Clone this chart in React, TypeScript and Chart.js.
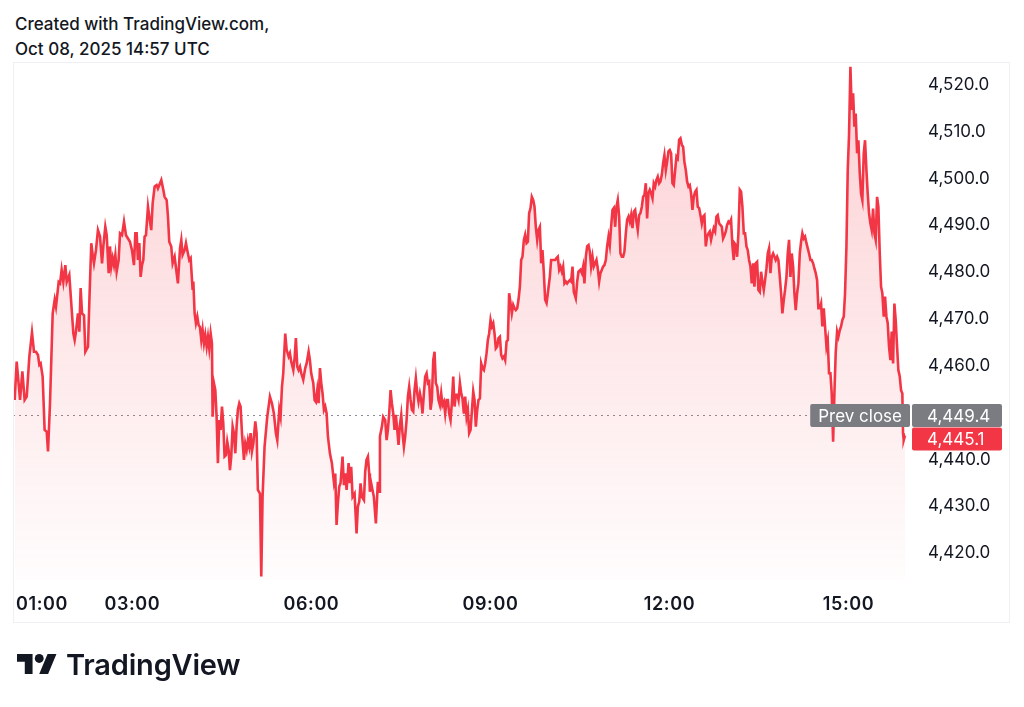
import React, { useEffect, useRef } from "react";
import { Chart, registerables } from "chart.js";

Chart.register(...registerables);

// time in minutes since 00:00 (axis time zone), price values
const minutes: number[] = [
  61.7, 63.7, 67.1, 69.4, 71.7, 73.8, 76.4, 79.1, 81.1, 83.1, 85.1, 86.5, 87.8, 89.8, 91.8, 93.9, 95.2, 97.2, 99.9,
  101.9, 103.2, 105.9, 107.3, 108.9, 110.6, 112.6, 114.0, 116.6, 118.6, 120.7, 122.0, 123.3, 125.3, 126.7, 128.0,
  129.4, 131.4, 132.7, 135.4, 136.7, 138.7, 140.1, 141.4, 143.4, 145.4, 147.5, 149.5, 150.8, 152.8, 154.2, 156.2,
  157.5, 158.8, 160.2, 161.5, 162.9, 164.2, 166.2, 167.6, 169.6, 171.6, 173.6, 175.6, 177.6, 179.6, 181.6, 183.0,
  184.3, 185.6, 187.0, 188.3, 189.7, 191.0, 192.3, 193.7, 195.7, 197.0, 199.0, 200.4, 202.4, 204.4, 205.7, 207.8,
  209.1, 211.1, 212.4, 214.5, 215.8, 217.1, 219.1, 220.5, 222.5, 224.5, 225.8, 227.9, 229.2, 230.5, 232.5, 233.9,
  235.2, 237.2,
  238.6, 240.6, 241.3, 242.6, 243.9, 245.3, 246.6, 247.9, 249.3, 250.6, 252.0, 253.3, 254.7, 256.0, 257.3, 258.7,
  260.0, 260.7, 262.0, 263.4, 264.7, 266.0, 267.4, 268.7, 270.1, 271.4, 272.7, 274.1, 275.4, 276.8, 278.1, 279.4,
  280.8, 282.1, 283.5, 284.8, 286.1, 287.5, 288.8, 290.2, 292.2, 293.5, 294.9, 296.2, 297.5, 298.9, 300.2, 301.6,
  303.6, 304.9, 306.2, 308.3, 309.6, 310.9, 312.9, 315.6, 318.3, 320.3, 322.3, 324.3, 325.7, 327.7, 329.0, 330.4,
  331.7, 333.7, 335.1, 337.1, 338.4, 339.7, 341.8, 343.1, 344.4, 345.8, 347.1, 348.5, 349.8, 351.8, 353.8, 355.2,
  357.2, 358.5, 359.8, 361.9, 363.2, 364.5, 365.9, 367.2, 368.6, 369.9, 371.2, 372.6, 373.9, 375.3, 376.6, 378.6,
  380.6, 382.6, 384.0, 385.3, 386.6, 388.0, 389.3, 391.3, 392.7, 394.0, 395.4, 397.4, 398.7, 400.0, 401.4, 403.4,
  405.4, 406.7, 408.1, 409.4, 410.8, 412.8, 414.1, 415.4, 416.8, 418.1,
  418.8, 420.1, 422.8, 424.8, 426.8, 428.1,
  428.9, 430.9, 432.2, 434.2, 435.6, 436.9, 438.2, 439.6, 440.9, 442.3, 443.6, 444.9, 446.3, 447.6, 449.0, 450.3,
  451.6, 453.0, 454.3, 455.7, 457.0, 458.3, 459.7, 461.0, 462.4, 463.7, 465.0, 466.4, 467.7, 469.1, 470.4, 471.7,
  473.1, 474.4, 475.8, 477.1, 478.4, 479.8, 481.1, 482.5, 483.8, 485.1, 486.5, 487.8, 489.2, 490.5, 491.8, 493.2,
  494.5, 495.9, 497.2, 498.5, 499.9, 501.2, 502.6, 503.9, 505.2, 506.6, 507.9, 509.3, 510.6, 511.9, 513.3, 514.6,
  516.0, 517.3, 518.6, 520.0, 521.3, 522.7, 524.0, 525.3, 526.7, 528.0, 529.4, 530.7, 532.0, 533.4, 534.7, 536.1,
  537.4, 538.7, 540.1, 541.4, 542.8, 544.1, 545.4, 546.8, 548.1, 549.5, 550.8, 552.1, 553.5, 554.8, 556.2, 557.5,
  558.8, 560.2, 561.5, 562.9, 564.2, 565.5, 566.9, 568.2, 569.6, 570.9, 572.2, 573.6, 574.9, 576.3, 577.6, 578.9,
  580.3, 581.6, 583.0, 584.3, 585.6, 587.0, 588.3, 589.7, 591.0, 592.3, 593.7, 595.0, 596.4, 597.7, 599.7,
  601.0, 603.1, 605.1, 606.4, 607.7, 609.1, 610.4, 611.8, 613.1, 614.4, 615.8, 617.1, 618.5, 619.8, 621.1, 622.5,
  623.8, 625.8, 627.2, 628.5, 630.5, 631.9, 633.2, 634.5, 635.9, 637.2, 638.6, 639.9, 641.2, 642.6, 643.9, 645.3,
  646.6, 647.9, 649.3, 650.6, 652.0, 653.3, 654.6, 656.0, 657.3, 658.7, 660.0, 661.3, 662.7, 664.0, 665.4, 666.7,
  668.0, 669.4, 670.7, 672.1, 673.4, 674.7, 676.1, 677.4, 678.8, 680.1, 681.4, 682.8, 684.1, 685.5, 686.8, 688.1,
  689.5, 690.8, 692.2, 693.5, 694.8, 696.2, 697.5, 698.9, 700.2, 701.5, 702.9, 704.2, 705.6, 706.9, 708.2, 709.6,
  710.9, 712.3, 713.6, 714.9, 716.3, 717.6, 719.0, 720.3, 721.6, 723.0, 724.3, 725.7, 727.0, 728.3, 729.7, 731.0,
  732.4, 733.7, 735.0, 736.4, 737.7, 739.1, 740.4, 741.7, 743.1, 744.4, 745.8, 747.1, 748.4, 749.8, 751.1, 752.5,
  753.8, 755.1, 756.5, 757.8, 759.2, 760.5, 761.8, 763.2, 764.5, 765.9, 767.2, 768.5, 769.9, 771.2, 772.6, 773.9,
  775.3, 776.6, 777.9, 779.3, 780.6,
  781.9, 783.3, 784.6, 785.3, 786.6, 788.0, 789.3, 790.7, 792.0, 793.3, 794.7, 796.0, 797.4, 798.7, 800.0, 801.4,
  802.7, 804.1, 805.4, 806.7, 808.1, 809.4, 810.8, 812.1, 813.4, 814.8, 816.1, 817.5, 818.8, 820.1, 821.5, 822.8,
  824.2, 825.5, 826.8, 828.2, 829.5, 830.9, 832.2, 833.5, 834.9, 836.2, 837.6, 838.9, 840.2, 841.6, 842.9, 844.3,
  845.6, 846.9, 848.3, 849.6, 851.0, 852.3, 853.6, 855.0, 856.3, 857.7, 859.0, 860.3, 861.7, 863.0, 864.4, 865.7,
  867.0, 868.4, 869.7, 871.1, 872.4, 873.7, 875.1, 876.4, 877.8, 879.1, 880.4, 881.8, 883.1, 884.5, 885.8, 887.1,
  888.5, 889.8, 891.2, 892.5, 893.8, 895.2, 896.5, 897.9, 899.2, 900.5, 901.9, 903.2, 904.6, 905.9, 907.2, 908.6,
  909.9, 911.3, 912.6, 913.9, 915.3, 916.6, 918.0, 919.3, 920.6, 922.0, 923.3, 924.7, 926.0, 927.3, 928.7, 930.0,
  931.4, 932.7, 934.0, 935.4, 936.7, 938.1, 939.4, 940.7, 942.1, 943.4, 944.8, 946.1, 947.4, 948.8, 950.1, 951.5,
  952.8, 954.1, 954.8, 955.5, 956.8,
];

const prices: number[] = [
  4452.7, 4460.9, 4452.7, 4458.8, 4452.7, 4453.4, 4461.9, 4467.1, 4463.0, 4463.0, 4462.3, 4460.2, 4460.5, 4457.7, 4446.3, 4445.9, 4441.7, 4452.0, 4471.2,
  4474.1, 4472.6, 4477.9, 4477.6, 4480.5, 4477.9, 4481.5, 4477.9, 4479.4, 4473.3, 4466.9, 4465.5, 4467.3, 4471.2, 4467.3, 4476.6,
  4471.2, 4470.8, 4463.0, 4464.1, 4473.3, 4486.2, 4483.7, 4481.9, 4484.7, 4489.0, 4487.6, 4481.9, 4485.5, 4489.7, 4487.9, 4479.8,
  4485.5, 4481.2, 4483.0, 4481.5, 4483.7, 4480.1, 4482.6, 4488.3, 4487.9, 4490.8, 4487.9, 4487.2, 4486.5, 4484.7, 4481.5, 4488.3,
  4488.3, 4482.6, 4486.2, 4479.0, 4481.5, 4482.6, 4487.6, 4487.9, 4494.0, 4491.9, 4489.0, 4494.7, 4498.3, 4498.6, 4497.9, 4499.0,
  4499.7, 4497.6, 4496.1, 4495.4, 4491.9, 4486.5, 4485.5, 4481.9, 4483.3, 4479.8, 4477.6, 4485.1, 4486.9, 4483.7, 4484.7, 4486.2,
  4484.7, 4482.6,
  4483.0, 4476.2, 4478.0, 4471.2, 4469.1, 4470.5, 4468.7, 4468.3, 4465.5, 4467.7, 4464.8, 4466.6, 4464.1, 4466.2, 4463.7, 4466.9,
  4464.8, 4449.1, 4456.3, 4454.8, 4449.1, 4439.2, 4448.4, 4446.3, 4451.3, 4447.7, 4440.6, 4440.9, 4443.8, 4442.0, 4437.7, 4440.6,
  4447.0, 4445.6, 4441.3, 4447.0, 4450.6, 4452.0, 4451.3, 4445.6, 4439.9, 4443.4, 4442.0, 4444.1, 4442.7, 4445.6, 4441.7, 4443.4,
  4448.1, 4445.6, 4433.5, 4432.7, 4415.0, 4432.0, 4442.7, 4449.1, 4453.4, 4452.0, 4449.8, 4445.6, 4444.1, 4450.6, 4449.1, 4455.5,
  4458.4, 4466.9, 4463.4, 4462.0, 4462.7, 4460.9, 4459.1, 4461.6, 4465.9, 4459.8, 4459.1, 4459.8, 4458.4, 4457.0, 4459.5, 4460.5,
  4463.0, 4461.2, 4458.4, 4456.3, 4452.7, 4452.3, 4454.8, 4452.0, 4459.5, 4456.3, 4454.1, 4450.6, 4451.3, 4449.8, 4444.9, 4441.3,
  4439.2, 4435.2, 4437.0, 4426.0, 4430.6, 4434.2, 4434.9, 4440.6, 4434.5, 4437.0, 4433.5, 4439.2, 4434.9, 4438.4, 4432.0, 4432.7,
  4424.2, 4429.9, 4431.0, 4434.9, 4432.0, 4431.3, 4437.4, 4439.9, 4440.6, 4437.0,
  4433.1, 4434.9, 4432.0, 4426.3, 4435.2, 4433.1,
  4444.9, 4447.0, 4449.1, 4448.4, 4444.1, 4446.3, 4449.8, 4454.8, 4452.0, 4449.8, 4446.3, 4449.5, 4446.3, 4443.1, 4447.4, 4449.5,
  4445.6, 4442.7, 4444.9, 4448.4, 4453.4, 4455.5, 4452.7, 4450.6, 4450.2, 4454.8, 4457.3, 4454.1, 4452.3, 4454.1, 4452.7, 4449.8,
  4454.1, 4457.7, 4458.4, 4456.3, 4456.6, 4450.6, 4452.7, 4461.2, 4463.0, 4456.3, 4455.5, 4452.7, 4451.6, 4454.1, 4451.6, 4452.3,
  4449.8, 4452.7, 4452.7, 4449.8, 4448.4, 4452.0, 4457.7, 4451.3, 4453.8, 4453.8, 4452.7, 4456.3, 4454.1, 4453.0, 4449.8, 4453.4,
  4449.1, 4450.6, 4445.6, 4446.3, 4450.2, 4454.5, 4452.7, 4447.0, 4450.6, 4452.7, 4453.0, 4460.5, 4459.5, 4459.1, 4460.5, 4462.7,
  4465.5, 4466.9, 4469.8, 4468.4, 4469.1, 4466.9, 4463.7, 4464.1, 4465.9, 4466.2, 4462.3, 4461.6, 4462.0, 4461.2, 4465.2, 4465.5,
  4475.5, 4473.4, 4471.2, 4473.0, 4472.3, 4471.9, 4472.3, 4474.1, 4476.9, 4482.6, 4483.3, 4486.9, 4488.0, 4486.2, 4486.5, 4492.6,
  4493.7, 4496.1, 4495.4, 4494.0, 4489.7, 4486.9, 4489.0, 4489.7, 4481.9, 4484.7, 4479.8, 4474.1, 4473.4, 4475.5, 4479.0,
  4482.6, 4482.6, 4482.6, 4483.0, 4483.3, 4480.5, 4481.2, 4480.1, 4481.2, 4477.6, 4478.0, 4477.6, 4478.0, 4478.3, 4478.0, 4481.2,
  4475.8, 4474.4, 4478.0, 4480.1, 4480.5, 4479.8, 4481.2, 4477.6, 4483.3, 4485.5, 4485.8, 4484.4, 4481.2, 4483.3, 4481.2, 4481.9,
  4482.6, 4480.8, 4478.0, 4479.8, 4480.5, 4481.2, 4481.5, 4482.6, 4485.5, 4487.6, 4485.8, 4489.7, 4493.3, 4493.7, 4489.7, 4494.0,
  4495.4, 4491.9, 4484.0, 4483.3, 4483.3, 4484.4, 4488.3, 4491.2, 4491.9, 4490.8, 4492.2, 4489.4, 4492.9, 4493.3, 4490.8, 4489.0,
  4492.2, 4492.6, 4494.0, 4496.1, 4496.5, 4499.0, 4491.5, 4496.9, 4497.6, 4496.9, 4495.8, 4499.0, 4498.3, 4499.7, 4500.4, 4499.0,
  4499.4, 4500.8, 4503.3, 4505.0, 4501.8, 4503.6, 4505.8, 4506.1, 4505.4, 4499.0, 4498.6, 4501.8, 4504.7, 4504.3, 4508.3, 4508.6,
  4507.2, 4506.8, 4503.6, 4501.8, 4499.4, 4498.3, 4498.6, 4496.9, 4493.3, 4496.1, 4497.2, 4497.6, 4494.0, 4493.7, 4492.2, 4490.4,
  4491.9, 4492.2, 4485.5, 4487.6, 4488.3, 4488.7, 4486.9, 4488.3, 4489.4, 4488.7, 4491.9, 4492.2, 4490.4, 4490.1, 4489.7, 4487.2,
  4487.9, 4488.7, 4490.1, 4490.8, 4490.5,
  4491.2, 4485.5, 4482.6, 4486.2, 4485.8, 4483.3, 4488.3, 4497.6, 4497.2, 4494.0, 4488.3, 4488.3, 4485.5, 4484.7, 4482.6, 4481.2,
  4477.6, 4481.9, 4476.9, 4481.9, 4482.2, 4476.2, 4475.8, 4480.1, 4478.0, 4476.2, 4478.3, 4480.8, 4484.0, 4485.1, 4479.8, 4483.3,
  4484.0, 4483.3, 4482.6, 4483.3, 4482.6, 4479.0, 4475.5, 4471.2, 4474.1, 4476.2, 4479.0, 4484.0, 4486.9, 4479.0, 4484.0, 4481.2,
  4475.5, 4471.9, 4475.5, 4477.6, 4484.0, 4486.5, 4488.3, 4487.2, 4487.6, 4486.2, 4485.1, 4484.0, 4482.6, 4482.6, 4481.9, 4480.8,
  4479.8, 4478.3, 4472.3, 4472.3, 4473.3, 4468.4, 4472.3, 4468.4, 4464.1, 4465.5, 4458.4, 4458.4, 4454.1, 4443.8, 4454.1, 4462.7,
  4467.3, 4466.2, 4467.6, 4468.4, 4469.8, 4470.5, 4475.5, 4485.5, 4501.8, 4509.3, 4523.9, 4514.7, 4518.2, 4511.1, 4513.9, 4505.4,
  4508.2, 4501.1, 4496.8, 4495.4, 4505.4, 4508.2, 4501.8, 4496.8, 4492.6, 4490.4, 4489.0, 4493.6, 4488.3, 4486.9, 4496.1, 4494.0,
  4484.0, 4476.9, 4475.5, 4470.5, 4474.8, 4470.5, 4469.1, 4464.1, 4461.2, 4467.3, 4460.5, 4473.3, 4469.8, 4464.1, 4459.1, 4457.7,
  4454.8, 4454.1, 4445.6, 4444.1, 4445.1,
];

const xTickValues: number[] = [60, 180, 360, 540, 720, 900];
const xTickLabels: string[] = ["01:00", "03:00", "06:00", "09:00", "12:00", "15:00"];
const yTickValues: number[] = [4420, 4430, 4440, 4450, 4460, 4470, 4480, 4490, 4500, 4510, 4520];
const prevClose = 4449.4;
const lastPrice = 4445.1;
const prevCloseLabel = "Prev close";
const headerLines: string[] = ["Created with TradingView.com,", "Oct 08, 2025 14:57 UTC"];
const brandName = "TradingView";

const RED = "#F23645";
const TEXT = "#131722";
const GRAY_BOX = "#7A7C82";
const FONT = "Inter, 'Noto Sans', sans-serif";

const fmt = (v: number) =>
  v.toLocaleString("en-US", { minimumFractionDigits: 1, maximumFractionDigits: 1 });

export default function App() {
  const canvasRef = useRef<HTMLCanvasElement | null>(null);

  useEffect(() => {
    const canvas = canvasRef.current;
    if (!canvas) return;

    const overlay = {
      id: "tvOverlay",
      beforeDatasetsDraw(chart: any) {
        const { ctx, chartArea, scales } = chart;
        const py = Math.round(scales.y.getPixelForValue(prevClose)) + 0.5;
        ctx.save();
        ctx.strokeStyle = "#8A8D96";
        ctx.lineWidth = 1;
        ctx.setLineDash([2, 4]);
        ctx.beginPath();
        ctx.moveTo(chartArea.left, py);
        ctx.lineTo(chartArea.right, py);
        ctx.stroke();
        ctx.restore();
      },
      afterDraw(chart: any) {
        const { ctx, chartArea, scales } = chart;
        const x = scales.x;
        const y = scales.y;
        ctx.save();
        // frame
        ctx.strokeStyle = "#EEF0F4";
        ctx.lineWidth = 1;
        ctx.strokeRect(chartArea.left + 0.5, chartArea.top + 0.5, y.right - chartArea.left - 1, chartArea.bottom + 42 - chartArea.top);
        // time labels
        ctx.fillStyle = TEXT;
        ctx.font = `600 18px ${FONT}`;
        (ctx as any).letterSpacing = "0.6px";
        ctx.textBaseline = "middle";
        xTickValues.forEach((v, i) => {
          const px = x.getPixelForValue(v);
          if (i === 0) {
            ctx.textAlign = "left";
            ctx.fillText(xTickLabels[i], px + 3, chartArea.bottom + 25);
          } else {
            ctx.textAlign = "center";
            ctx.fillText(xTickLabels[i], px, chartArea.bottom + 25);
          }
        });
        (ctx as any).letterSpacing = "0px";
        // price labels
        const boxH = 23;
        const pc = y.getPixelForValue(prevClose);
        const lp = Math.max(y.getPixelForValue(lastPrice), pc + boxH + 0.5);
        const axisX = chartArea.right + 2;
        const axisW = 90;
        ctx.font = `400 17px ${FONT}`;
        const prevW = ctx.measureText(prevCloseLabel).width + 16;
        ctx.fillStyle = GRAY_BOX;
        ctx.beginPath();
        ctx.roundRect(chartArea.right - prevW, pc - boxH / 2, prevW, boxH, 2);
        ctx.fill();
        ctx.beginPath();
        ctx.roundRect(axisX, pc - boxH / 2, axisW, boxH, 2);
        ctx.fill();
        ctx.fillStyle = RED;
        ctx.beginPath();
        ctx.roundRect(axisX, lp - boxH / 2, axisW, boxH, 2);
        ctx.fill();
        ctx.fillStyle = "#FFFFFF";
        ctx.textBaseline = "middle";
        ctx.textAlign = "center";
        ctx.fillText(prevCloseLabel, chartArea.right - prevW / 2, pc + 1);
        ctx.textAlign = "left";
        ctx.fillText(fmt(prevClose), chartArea.right + 17, pc + 1);
        ctx.fillText(fmt(lastPrice), chartArea.right + 17, lp + 1);
        ctx.restore();
      },
    };

    const chart = new Chart(canvas, {
      type: "line",
      data: {
        datasets: [
          {
            data: minutes.map((m, i) => ({ x: m, y: prices[i] })),
            borderColor: RED,
            borderWidth: 2.6,
            pointRadius: 0,
            tension: 0,
            fill: "start",
            backgroundColor: (c: any) => {
              const area = c.chart.chartArea;
              if (!area) return "rgba(242,54,69,0.12)";
              const g = c.chart.ctx.createLinearGradient(0, area.top, 0, area.bottom);
              g.addColorStop(0, "rgba(242,54,69,0.24)");
              g.addColorStop(1, "rgba(242,54,69,0.01)");
              return g;
            },
          },
        ],
      },
      options: {
        responsive: false,
        animation: false,
        events: [],
        layout: { padding: { left: 13, top: 62, right: 14, bottom: 127 } },
        plugins: { legend: { display: false }, tooltip: { enabled: false } },
        scales: {
          x: {
            type: "linear",
            min: 60,
            max: 961.8,
            display: false,
          },
          y: {
            position: "right",
            min: 4414.23,
            max: 4524.91,
            afterBuildTicks: (s: any) => {
              s.ticks = yTickValues.map((v) => ({ value: v }));
            },
            afterFit: (s: any) => {
              s.width = 100;
            },
            grid: { display: false, drawTicks: false },
            border: { display: false },
            ticks: {
              padding: 18,
              color: TEXT,
              font: { family: FONT, size: 17, weight: "400" },
              callback: (v: any) => fmt(Number(v)),
            },
          },
        },
      },
      plugins: [overlay],
    });

    return () => chart.destroy();
  }, []);

  return (
    <div style={{ position: "fixed", left: 0, top: 0, width: 1024, height: 707, background: "#fff", overflow: "hidden" }}>
      <div
        style={{
          position: "absolute",
          left: 15,
          top: 12,
          fontFamily: FONT,
          fontSize: 17,
          fontWeight: 500,
          lineHeight: "25px",
          color: TEXT,
        }}
      >
        {headerLines.map((l) => (
          <div key={l}>{l}</div>
        ))}
      </div>
      <canvas ref={canvasRef} width={1024} height={707} style={{ position: "absolute", left: 0, top: 0 }} />
      <div style={{ position: "absolute", left: 17, top: 649, display: "flex", alignItems: "center", height: 30 }}>
        <svg width={40} height={20} viewBox="0 4 36 18" style={{ display: "block" }}>
          <path d="M14 22H7V11H0V4h14v18zM28 22h-8l7.5-18h8L28 22z" fill={TEXT} />
          <circle cx="20" cy="8" r="4" fill={TEXT} />
        </svg>
        <span style={{ marginLeft: 9, fontFamily: FONT, fontSize: 29, fontWeight: 600, color: TEXT, letterSpacing: -0.2 }}>
          {brandName}
        </span>
      </div>
    </div>
  );
}
